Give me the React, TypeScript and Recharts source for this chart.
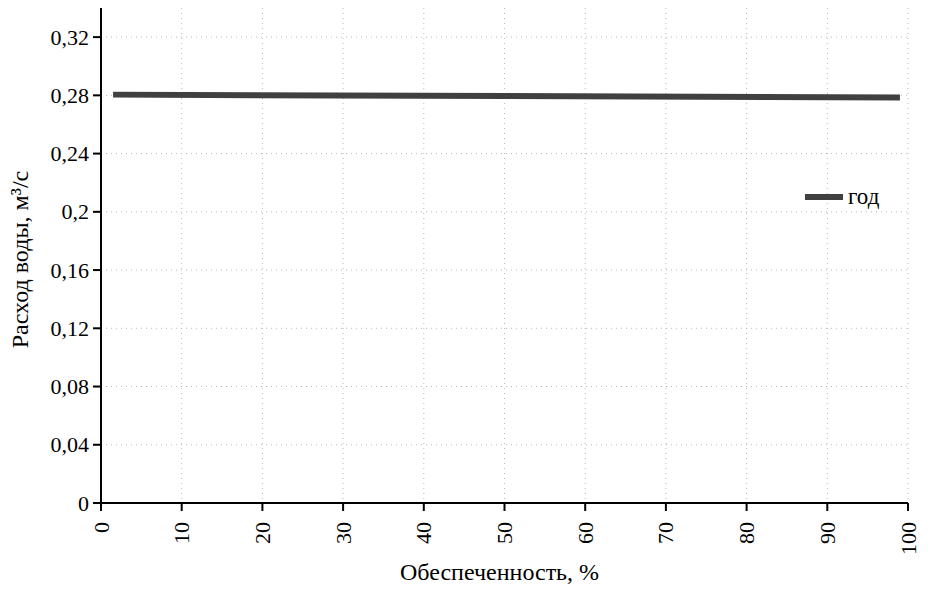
import React from 'react';
import { LineChart, Line, XAxis, YAxis, CartesianGrid, Label } from 'recharts';

const seriesName = 'год';
const provision = [1.5, 50, 99];
const discharge = [0.2805, 0.2795, 0.2785];
const xTicks = [0, 10, 20, 30, 40, 50, 60, 70, 80, 90, 100];
const yTicks = [0, 0.04, 0.08, 0.12, 0.16, 0.2, 0.24, 0.28, 0.32];
const xTitle = 'Обеспеченность, %';
const yTitle = 'Расход воды, м³/с';

const data = provision.map((p, i) => ({ p, q: discharge[i] }));

const FONT = '"Liberation Serif", "Times New Roman", serif';
const LINE_COLOR = '#404040';

const XTick = (props: any) => {
  const { x, y, payload } = props;
  return (
    <text
      x={0}
      y={0}
      transform={`translate(${x},${y + 9}) rotate(-90)`}
      textAnchor="end"
      dominantBaseline="central"
      fontSize={22}
      fontFamily={FONT}
      fill="#000"
    >
      {payload.value}
    </text>
  );
};

const YTick = (props: any) => {
  const { x, y, payload } = props;
  return (
    <text x={x - 2} y={y} textAnchor="end" dominantBaseline="central" fontSize={22} fontFamily={FONT} fill="#000">
      {String(payload.value).replace('.', ',')}
    </text>
  );
};

export default function App() {
  return (
    <div style={{ position: 'absolute', left: 0, top: 0, width: 935, height: 592, background: '#fff' }}>
      <LineChart width={935} height={592} data={data} margin={{ top: 8, right: 27, left: 0, bottom: 0 }}>
        <CartesianGrid
          stroke="#b8b8b8"
          strokeDasharray="1 4"
          horizontalValues={yTicks}
          verticalValues={xTicks}
        />
        <XAxis
          dataKey="p"
          type="number"
          domain={[0, 100]}
          ticks={xTicks}
          interval={0}
          height={89}
          axisLine={{ stroke: '#000', strokeWidth: 2 }}
          tickLine={{ stroke: '#000', strokeWidth: 2 }}
          tickSize={8}
          tick={<XTick />}
        >
          <Label
            content={({ viewBox }: any) => (
              <text
                x={viewBox.x + viewBox.width / 2 - 5}
                y={572}
                textAnchor="middle"
                dominantBaseline="central"
                fontSize={24}
                fontFamily={FONT}
                fill="#000"
              >
                {xTitle}
              </text>
            )}
          />
        </XAxis>
        <YAxis
          type="number"
          domain={[0, 0.34]}
          ticks={yTicks}
          interval={0}
          width={101}
          axisLine={{ stroke: '#000', strokeWidth: 2 }}
          tickLine={{ stroke: '#000', strokeWidth: 2 }}
          tickSize={8}
          tick={<YTick />}
        >
          <Label
            content={({ viewBox }: any) => {
              const cy = viewBox.y + viewBox.height / 2 + 4;
              return (
                <text
                  x={20}
                  y={cy}
                  transform={`rotate(-90, 20, ${cy})`}
                  textAnchor="middle"
                  dominantBaseline="central"
                  fontSize={24}
                  fontFamily={FONT}
                  fill="#000"
                >
                  {yTitle}
                </text>
              );
            }}
          />
        </YAxis>
        <Line
          type="linear"
          dataKey="q"
          name={seriesName}
          stroke={LINE_COLOR}
          strokeWidth={6}
          dot={false}
          activeDot={false}
          isAnimationActive={false}
        />
      </LineChart>
      <div
        style={{
          position: 'absolute',
          left: 805,
          top: 184,
          display: 'flex',
          alignItems: 'center',
          fontFamily: FONT,
          fontSize: 23,
          color: '#000',
        }}
      >
        <div style={{ width: 38, height: 6, background: LINE_COLOR, marginRight: 5 }} />
        <span>{seriesName}</span>
      </div>
    </div>
  );
}
